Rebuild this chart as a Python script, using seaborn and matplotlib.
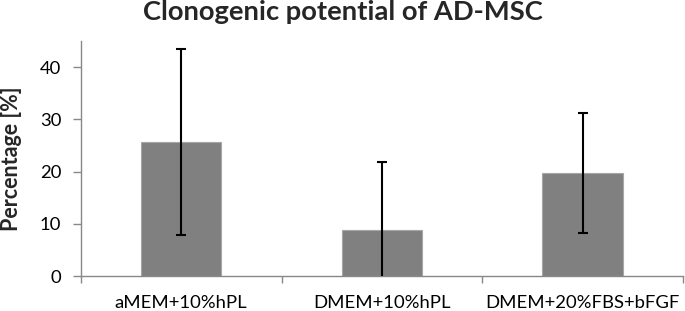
import numpy as np
import pandas as pd
import matplotlib
matplotlib.use("Agg")
import matplotlib.pyplot as plt
import seaborn as sns

# data
media = ["aMEM+10%hPL", "DMEM+10%hPL", "DMEM+20%FBS+bFGF"]
percentage = [25.7, 8.9, 19.8]
std_dev = [17.8, 12.9, 11.5]

df = pd.DataFrame({"Medium": media, "Percentage": percentage, "SD": std_dev})

sns.set_theme(style="white")
plt.rcParams["font.family"] = ["Lato", "DejaVu Sans"]

fig = plt.figure(figsize=(6.85, 3.11), dpi=100)
ax = fig.add_axes([0.118, 0.1125, 0.879, 0.755])

sns.barplot(data=df, x="Medium", y="Percentage", color="#808080", width=0.4,
            saturation=1, edgecolor="#a6a6a6", linewidth=0.8, errorbar=None, ax=ax)

ax.errorbar(np.arange(len(media)), df["Percentage"], yerr=df["SD"], fmt="none",
            ecolor="black", elinewidth=1.5, capsize=3.5, capthick=1.5, zorder=5)

ax.set_ylim(0, 45)
ax.set_xlim(-0.5, len(media) - 0.5)
ax.set_yticks([0, 10, 20, 30, 40])

# category boundary ticks like the spreadsheet original
ax.set_xticks(np.arange(-0.5, len(media)), minor=True)
ax.tick_params(axis="x", which="major", length=0, pad=14, labelsize=13.3, labelcolor="black")
ax.tick_params(axis="x", which="minor", bottom=True, length=5, width=1, color="#888888")
ax.tick_params(axis="y", left=True, length=6, width=1, color="#888888", labelsize=13.3,
               labelcolor="black", pad=8)

sns.despine(ax=ax)
for side in ["left", "bottom"]:
    ax.spines[side].set_color("#888888")
    ax.spines[side].set_linewidth(1)

ax.set_xlabel("")
ax.set_ylabel("Percentage [%]", fontsize=15.5, fontweight="bold")
ax.yaxis.set_label_coords(-0.097, 0.5)
fig.suptitle("Clonogenic potential of AD-MSC", fontsize=19.7, fontweight="bold",
             x=0.5, y=1.0)

fig.savefig("out.png", dpi=100)
